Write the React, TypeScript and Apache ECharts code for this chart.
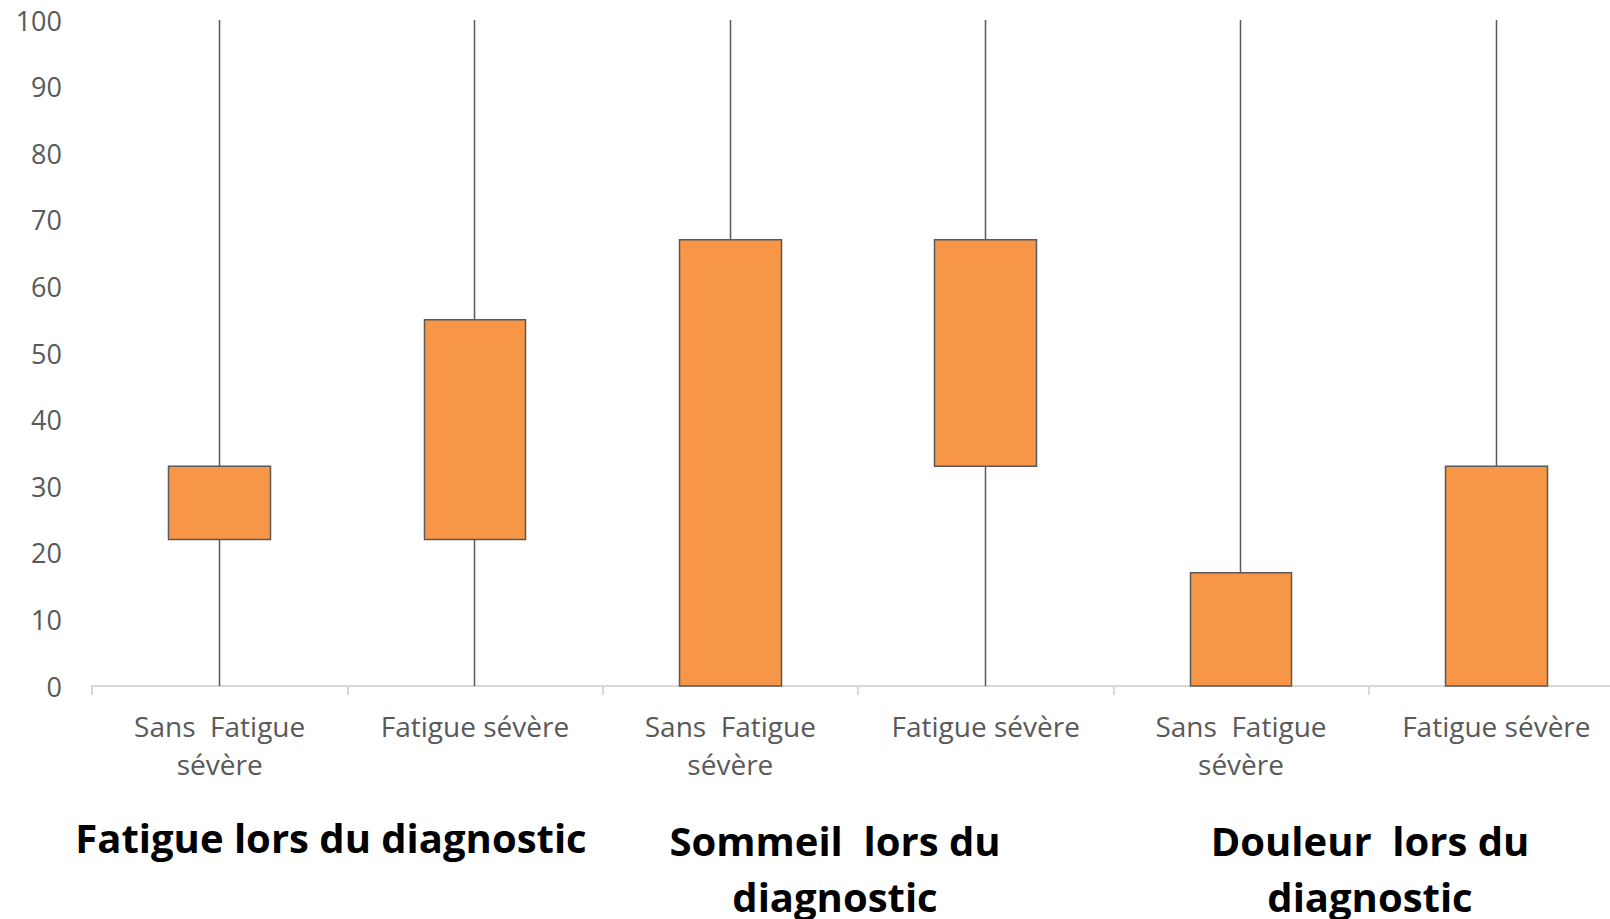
import React, { useEffect, useRef } from "react";
import * as echarts from "echarts";

const categories = [
  "Sans  Fatigue\nsévère",
  "Fatigue sévère",
  "Sans  Fatigue\nsévère",
  "Fatigue sévère",
  "Sans  Fatigue\nsévère",
  "Fatigue sévère",
];
// box from boxLow to boxHigh, whisker from whiskerLow to whiskerHigh
const boxLow = [22, 22, 0, 33, 0, 0];
const boxHigh = [33, 55, 67, 67, 17, 33];
const whiskerLow = [0, 0, 0, 0, 0, 0];
const whiskerHigh = [100, 100, 100, 100, 100, 100];
const groupTitles = [
  "Fatigue lors du diagnostic",
  "Sommeil  lors du\ndiagnostic",
  "Douleur  lors du\ndiagnostic",
];

export default function App() {
  const ref = useRef<HTMLDivElement>(null);
  useEffect(() => {
    document.body.style.margin = "0";
    const chart = echarts.init(ref.current!, null, { renderer: "svg" });
    const data = categories.map((_, i) => [boxLow[i], boxHigh[i], whiskerLow[i], whiskerHigh[i]]);
    const titleFont = {
      fontFamily: "Open Sans",
      fontWeight: "bold" as const,
      fontSize: 40,
      lineHeight: 56,
      fill: "#000000",
      align: "center" as const,
      verticalAlign: "top" as const,
    };
    chart.setOption({
      animation: false,
      backgroundColor: "#ffffff",
      grid: { left: 92, top: 20, width: 1532, bottom: 233, outerBoundsMode: "none", containLabel: false },
      xAxis: {
        type: "category",
        data: categories,
        axisLine: { show: true, lineStyle: { color: "#D9D9D9", width: 2 } },
        axisTick: { show: true, length: 9, lineStyle: { color: "#D9D9D9", width: 2 } },
        axisLabel: {
          color: "#595959",
          fontFamily: "Open Sans",
          fontSize: 28,
          lineHeight: 38,
          margin: 21,
          interval: 0,
        },
        splitLine: { show: false },
      },
      yAxis: {
        type: "value",
        min: 0,
        max: 100,
        interval: 10,
        axisLine: { show: false },
        axisTick: { show: false },
        splitLine: { show: false },
        axisLabel: {
          color: "#595959",
          fontFamily: "Open Sans",
          fontSize: 27,
          margin: 30,
        },
      },
      series: [
        {
          type: "candlestick",
          data,
          barWidth: "40%",
          itemStyle: {
            color: "#F79646",
            color0: "#F79646",
            borderColor: "#595959",
            borderColor0: "#595959",
            borderWidth: 1.5,
          },
        },
      ],
      graphic: [
        { type: "text", style: { ...titleFont, text: groupTitles[0], x: 331, y: 809 } },
        { type: "text", style: { ...titleFont, text: groupTitles[1], x: 835, y: 812 } },
        { type: "text", style: { ...titleFont, text: groupTitles[2], x: 1370, y: 812 } },
      ],
    });
    return () => chart.dispose();
  }, []);
  return <div ref={ref} style={{ width: 1610, height: 919 }} />;
}
